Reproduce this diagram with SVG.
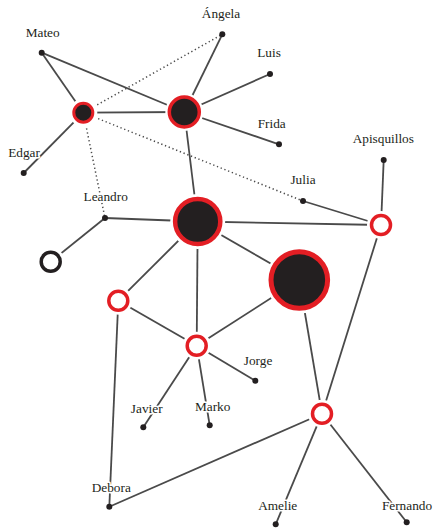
<svg xmlns="http://www.w3.org/2000/svg" width="436" height="531" viewBox="0 0 436 531">
<style>
.e{stroke:#4a4a4a;stroke-width:1.8;fill:none}
.d{stroke:#4a4a4a;stroke-width:1.5;fill:none;stroke-dasharray:1.3 2.7}
.dot{fill:#231f20}
.halo{fill:#fff}
.full{fill:#231f20;stroke:#e31e24}
.open{fill:#fff;stroke:#e31e24}
.blk{fill:#fff;stroke:#231f20}
text{font-family:"Liberation Serif","Times New Roman",serif;font-size:13.3px;fill:#231f20;text-anchor:middle;stroke:#fff;stroke-width:3;paint-order:stroke;stroke-linejoin:round}
</style>
<rect width="436" height="531" fill="#fff"/>
<g id="connectors">
<line class="e" x1="41.7" y1="52.7" x2="83.3" y2="112.7"/>
<line class="e" x1="41.7" y1="52.7" x2="184.3" y2="112"/>
<line class="e" x1="83.3" y1="112.7" x2="184.3" y2="112"/>
<line class="e" x1="83.3" y1="112.7" x2="23.7" y2="173"/>
<line class="e" x1="184.3" y1="112" x2="222.3" y2="34.3"/>
<line class="e" x1="184.3" y1="112" x2="270" y2="74"/>
<line class="e" x1="184.3" y1="112" x2="279" y2="144.3"/>
<line class="e" x1="184.3" y1="112" x2="197.7" y2="221.5"/>
<line class="e" x1="105" y1="218" x2="197.7" y2="221.5"/>
<line class="e" x1="105" y1="218" x2="50.7" y2="261.7"/>
<line class="e" x1="197.7" y1="221.5" x2="381" y2="225"/>
<line class="e" x1="303" y1="201" x2="381" y2="225"/>
<line class="e" x1="383.7" y1="160" x2="381" y2="225"/>
<line class="e" x1="197.7" y1="221.5" x2="118.3" y2="300.7"/>
<line class="e" x1="197.7" y1="221.5" x2="196.7" y2="345.7"/>
<line class="e" x1="197.7" y1="221.5" x2="299.3" y2="280"/>
<line class="e" x1="299.3" y1="280" x2="196.7" y2="345.7"/>
<line class="e" x1="299.3" y1="280" x2="322" y2="413.7"/>
<line class="e" x1="381" y1="225" x2="322" y2="413.7"/>
<line class="e" x1="118.3" y1="300.7" x2="196.7" y2="345.7"/>
<line class="e" x1="118.3" y1="300.7" x2="109.3" y2="506.7"/>
<line class="e" x1="196.7" y1="345.7" x2="143.3" y2="427.3"/>
<line class="e" x1="196.7" y1="345.7" x2="209.7" y2="425.3"/>
<line class="e" x1="196.7" y1="345.7" x2="255.3" y2="380.7"/>
<line class="e" x1="322" y1="413.7" x2="109.3" y2="506.7"/>
<line class="e" x1="322" y1="413.7" x2="275.7" y2="524.3"/>
<line class="e" x1="322" y1="413.7" x2="406.7" y2="522.3"/>
<line class="d" x1="83.3" y1="112.7" x2="222.3" y2="34.3"/>
<line class="d" x1="83.3" y1="112.7" x2="303" y2="201"/>
<line class="d" x1="83.3" y1="112.7" x2="105" y2="218"/>
</g>
<g id="n-mateo"><circle class="dot" cx="41.7" cy="52.7" r="3"/><text x="42.7" y="37">Mateo</text></g>
<g id="n-edgar"><circle class="dot" cx="23.7" cy="173" r="3"/><text x="24" y="157">Edgar</text></g>
<g id="n-angela"><circle class="dot" cx="222.3" cy="34.3" r="3"/><text x="221" y="18.3">Ángela</text></g>
<g id="n-luis"><circle class="dot" cx="270" cy="74" r="3"/><text x="269" y="56.7">Luis</text></g>
<g id="n-frida"><circle class="dot" cx="279" cy="144.3" r="3"/><text x="271.7" y="127.7">Frida</text></g>
<g id="n-apisquillos"><circle class="dot" cx="383.7" cy="160" r="3"/><text x="383.3" y="143.3">Apisquillos</text></g>
<g id="n-julia"><circle class="dot" cx="303" cy="201" r="3"/><text x="303" y="184.3">Julia</text></g>
<g id="n-leandro"><circle class="dot" cx="105" cy="218" r="3"/><text x="105.7" y="200.7">Leandro</text></g>
<g id="n-jorge"><circle class="dot" cx="255.3" cy="380.7" r="3"/><text x="258" y="365.3">Jorge</text></g>
<g id="n-javier"><circle class="dot" cx="143.3" cy="427.3" r="3"/><text x="146.7" y="412.7">Javier</text></g>
<g id="n-marko"><circle class="dot" cx="209.7" cy="425.3" r="3"/><text x="212.7" y="411">Marko</text></g>
<g id="n-debora"><circle class="dot" cx="109.3" cy="506.7" r="3"/><text x="111.3" y="491.7">Debora</text></g>
<g id="n-amelie"><circle class="dot" cx="275.7" cy="524.3" r="3"/><text x="277.7" y="510">Amelie</text></g>
<g id="n-fernando"><circle class="dot" cx="406.7" cy="522.3" r="3"/><text x="407" y="510">Fernando</text></g>
<g id="n-a"><circle class="halo" cx="83.3" cy="112.7" r="14"/><circle class="full" cx="83.3" cy="112.7" r="9.5" stroke-width="3"/></g>
<g id="n-b"><circle class="halo" cx="184.3" cy="112" r="19"/><circle class="full" cx="184.3" cy="112" r="15" stroke-width="3.5"/></g>
<g id="n-c"><circle class="halo" cx="197.7" cy="221.5" r="27.5"/><circle class="full" cx="197.7" cy="221.5" r="22.6" stroke-width="4.5"/></g>
<g id="n-d"><circle class="halo" cx="299.3" cy="280" r="33.5"/><circle class="full" cx="299.3" cy="280" r="28.3" stroke-width="5"/></g>
<g id="n-e"><circle class="halo" cx="118.3" cy="300.7" r="14"/><circle class="open" cx="118.3" cy="300.7" r="9.5" stroke-width="3.5"/></g>
<g id="n-f"><circle class="halo" cx="196.7" cy="345.7" r="14"/><circle class="open" cx="196.7" cy="345.7" r="9.5" stroke-width="3.5"/></g>
<g id="n-g"><circle class="halo" cx="322" cy="413.7" r="14"/><circle class="open" cx="322" cy="413.7" r="9.5" stroke-width="3.5"/></g>
<g id="n-h"><circle class="halo" cx="381" cy="225" r="14"/><circle class="open" cx="381" cy="225" r="9.5" stroke-width="3.5"/></g>
<g id="n-black"><circle class="halo" cx="50.7" cy="261.7" r="14"/><circle class="blk" cx="50.7" cy="261.7" r="9.5" stroke-width="3.5"/></g>
</svg>
